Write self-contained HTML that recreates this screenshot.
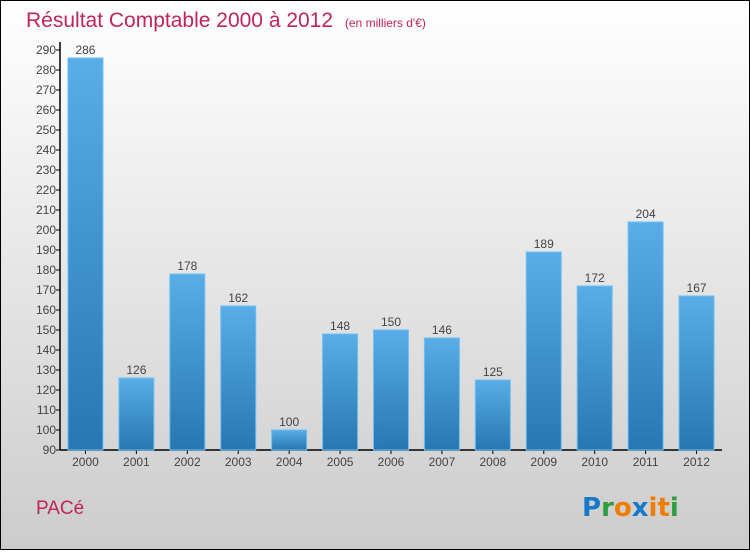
<!DOCTYPE html>
<html><head><meta charset="utf-8"><style>
html,body{margin:0;padding:0;}
body{width:750px;height:550px;overflow:hidden;font-family:"Liberation Sans",sans-serif;}
</style></head><body>
<svg id="chart" width="750" height="550" xmlns="http://www.w3.org/2000/svg">
<defs>
<linearGradient id="bg" x1="0" y1="0" x2="0" y2="1"><stop offset="0" stop-color="#ffffff"/><stop offset="1" stop-color="#cccccc"/></linearGradient>
<linearGradient id="bar" x1="0" y1="0" x2="0" y2="1"><stop offset="0" stop-color="#5aade6"/><stop offset="1" stop-color="#2677b3"/></linearGradient>
</defs>
<rect x="0.5" y="0.5" width="749" height="549" fill="url(#bg)" stroke="#000"/>
<text x="26" y="27" font-size="21" fill="#c0245c">Résultat Comptable 2000 à 2012 <tspan font-size="12" dx="6">(en milliers d'€)</tspan></text>
<text x="36" y="514" font-size="19" fill="#c0245c">PACé</text>
<g font-size="26" font-weight="bold" font-family="'DejaVu Sans',sans-serif">
<text x="582" y="516"><tspan fill="#1a78c9">P</tspan><tspan fill="#2e9e3e">r</tspan><tspan fill="#f07d00">o</tspan><tspan fill="#1a78c9">x</tspan><tspan fill="#f07d00">i</tspan><tspan fill="#f07d00">t</tspan><tspan fill="#2e9e3e">i</tspan></text>
</g>
<g id="axes"></g>
<g id="bars"></g>
</svg>
<script>
const categories=["2000","2001","2002","2003","2004","2005","2006","2007","2008","2009","2010","2011","2012"];
const values=[286,126,178,162,100,148,150,146,125,189,172,204,167];
const yTicks=[90,100,110,120,130,140,150,160,170,180,190,200,210,220,230,240,250,260,270,280,290];
const NS="http://www.w3.org/2000/svg";
const yMin=90,yMax=290,yTop=50,yBot=450,xLeft=60,xRight=722;
function y(v){return yBot-(v-yMin)/(yMax-yMin)*(yBot-yTop);}
const step=(xRight-xLeft)/categories.length;
function xc(i){return xLeft+step*(i+0.5);}
function el(t,a,p){const e=document.createElementNS(NS,t);for(const k in a)e.setAttribute(k,a[k]);p.appendChild(e);return e;}
const ax=document.getElementById('axes'),bars=document.getElementById('bars');
const yl=el('line',{x1:xLeft,y1:yTop-8,x2:xLeft,y2:yBot,stroke:'#000','stroke-width':1.5},ax);


const xl=el('line',{x1:xLeft,y1:yBot,x2:xRight,y2:yBot,stroke:'#000','stroke-width':1.5},ax);


yTicks.forEach(v=>{
  el('line',{x1:xLeft-4,y1:y(v),x2:xLeft,y2:y(v),stroke:'#000'},ax);
  const t=el('text',{x:xLeft-4,y:y(v)+4,'font-size':12,fill:'#444','text-anchor':'end'},ax);
  t.textContent=v;
  
  
});
categories.forEach((c,i)=>{
  const v=values[i];
  const r=el('rect',{x:xc(i)-17.5,y:y(v),width:35,height:yBot-y(v),fill:'url(#bar)',stroke:'#6cc0f5','stroke-width':1},bars);
  
  
  const lb=el('text',{x:xc(i),y:y(v)-4,'font-size':12,fill:'#444','text-anchor':'middle'},bars);
  lb.textContent=v;
  
  
  el('line',{x1:xc(i),y1:yBot,x2:xc(i),y2:yBot+4,stroke:'#000'},ax);
  const xt=el('text',{x:xc(i),y:yBot+16,'font-size':12,fill:'#444','text-anchor':'middle'},ax);
  xt.textContent=c;
  
  
});
</script>
</body></html>
